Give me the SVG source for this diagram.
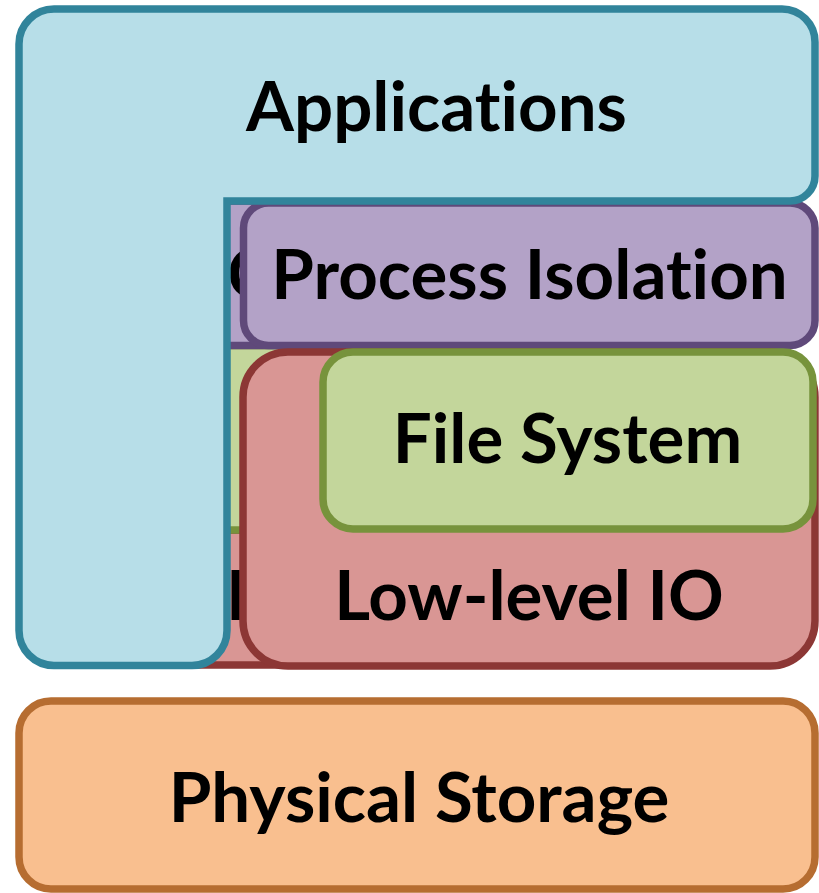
<svg xmlns="http://www.w3.org/2000/svg" width="819" height="893" viewBox="0 0 819 893">
  <style>
    .lbl { font-family: Lato, "Open Sans", "Liberation Sans", sans-serif; font-weight: bold; font-size: 69px; fill: #000; text-anchor: middle; font-variant-ligatures: none; }
    .frag { font-family: Lato, "Open Sans", "Liberation Sans", sans-serif; font-weight: bold; font-size: 69px; fill: #000; }
    .box { stroke-width: 7.5; }
    .purple { fill: #B3A2C7; stroke: #5F497A; }
    .green { fill: #C3D69B; stroke: #77933C; }
    .red { fill: #D99694; stroke: #8C3735; }
    .teal { fill: #B7DEE8; stroke: #31849B; }
    .orange { fill: #F9BF8F; stroke: #B66D31; }
  </style>

  <defs>
    <!-- the strip between the Applications column and the front nodes -->
    <clipPath id="strip">
      <rect x="226" y="201" width="16" height="465"/>
    </clipPath>
  </defs>

  <rect width="819" height="893" fill="#FFFFFF"/>

  <!-- background layer bands, mostly covered by the nodes in front -->
  <g id="bands">
    <rect class="box red" x="80" y="530" width="620" height="135"/>
    <rect class="box green" x="80" y="345.5" width="620" height="184.5"/>
    <rect class="box purple" x="80" y="201" width="620" height="144.5"/>
    <g clip-path="url(#strip)">
      <text class="frag" x="227" y="298">C</text>
      <text class="frag" x="226" y="620">I</text>
    </g>
  </g>

  <g id="process-isolation">
    <rect class="box purple" x="243.5" y="203" width="571.5" height="142.5" rx="25"/>
    <text class="lbl" x="529.5" y="299">Process Isolation</text>
  </g>

  <g id="low-level-io">
    <rect class="box red" x="243" y="352" width="572" height="314" rx="45"/>
    <text class="lbl" x="529" y="620">Low-level IO</text>
  </g>

  <g id="file-system">
    <rect class="box green" x="323" y="352" width="490" height="177" rx="30"/>
    <text class="lbl" x="567.5" y="463">File System</text>
  </g>

  <g id="applications">
    <path class="box teal" stroke-linejoin="miter"
          d="M 54,9 H 782 A 33,33 0 0 1 815,42 V 176 A 25,25 0 0 1 790,201 H 227 V 630.5 A 35,35 0 0 1 192,665.5 H 54 A 35,35 0 0 1 19,630.5 V 44 A 35,35 0 0 1 54,9 Z"/>
    <text class="lbl" x="436.5" y="131">Applications</text>
  </g>

  <g id="physical-storage">
    <rect class="box orange" x="19" y="701" width="796" height="188" rx="32"/>
    <text class="lbl" x="419" y="822">Physical Storage</text>
  </g>

  <g id="connectors"/>
</svg>
